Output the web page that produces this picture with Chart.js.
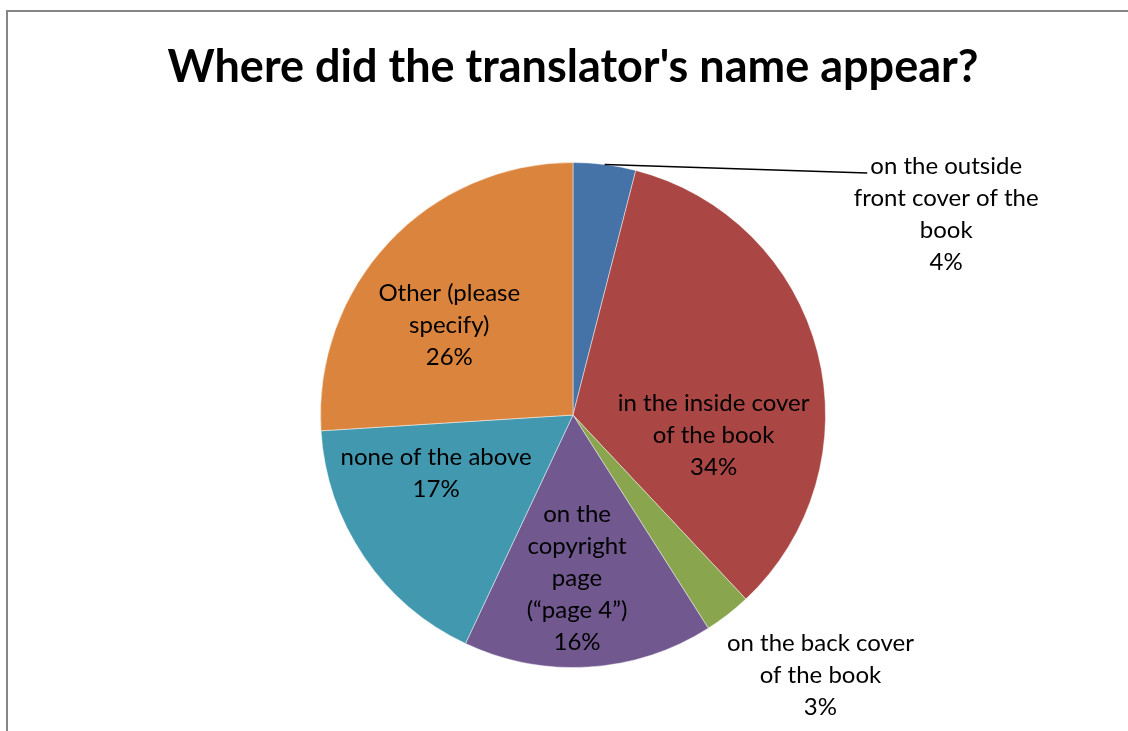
<!DOCTYPE html>
<html>
<head>
<meta charset="utf-8">
<script src="https://cdn.jsdelivr.net/npm/chart.js@4.4.1/dist/chart.umd.min.js"></script>
<style>
  html, body { margin: 0; padding: 0; background: #fff; }
  #wrap { position: relative; width: 1128px; height: 731px; }
</style>
</head>
<body>
<div id="wrap"><canvas id="pie"></canvas></div>
<script>
const chartTitle = "Where did the translator's name appear?";
const categories = [
  ["on the outside", "front cover of the", "book"],
  ["in the inside cover", "of the book"],
  ["on the back cover", "of the book"],
  ["on the", "copyright", "page", "(\u201cpage 4\u201d)"],
  ["none of the above"],
  ["Other (please", "specify)"]
];
const shares = [4, 34, 3, 16, 17, 26];
const sliceColors = ["#4572A7", "#AA4643", "#89A54E", "#71588F", "#4198AF", "#DB843D"];

// label block centres, in radii from the pie centre
const labelSpots = [
  { fx: 1.478, fy: -0.796, leader: true },
  { fx: 0.557, fy: 0.079 },
  { fx: 0.980, fy: 1.032 },
  { fx: 0.016, fy: 0.648 },
  { fx: -0.542, fy: 0.231 },
  { fx: -0.490, fy: -0.356 }
];

const labelFont = "24px Lato";
const lineGap = 32;

const total = shares.reduce((a, b) => a + b, 0);

const frameAndTitle = {
  id: "frameAndTitle",
  beforeDraw(chart) {
    const ctx = chart.ctx;
    ctx.save();
    ctx.fillStyle = "#fff";
    ctx.fillRect(0, 0, chart.width, chart.height);
    ctx.strokeStyle = "#868686";
    ctx.lineWidth = 2;
    ctx.strokeRect(7, 11, chart.width + 20, chart.height + 20);
    ctx.restore();
  },
  afterDraw(chart) {
    const ctx = chart.ctx;
    const arc = chart.getDatasetMeta(0).data[0];
    ctx.save();
    ctx.fillStyle = "#000";
    ctx.font = "bold 45px Lato";
    ctx.textAlign = "center";
    ctx.textBaseline = "alphabetic";
    ctx.fillText(chartTitle, arc.x, 82);
    ctx.restore();
  }
};

const sliceLabels = {
  id: "sliceLabels",
  afterDatasetsDraw(chart) {
    const ctx = chart.ctx;
    const arcs = chart.getDatasetMeta(0).data;
    ctx.save();
    ctx.font = labelFont;
    ctx.fillStyle = "#000";
    ctx.textAlign = "center";
    ctx.textBaseline = "middle";
    arcs.forEach((arc, i) => {
      const spot = labelSpots[i];
      const r = arc.outerRadius;
      const lx = arc.x + spot.fx * r;
      const ly = arc.y + spot.fy * r;
      const pct = Math.round(shares[i] / total * 100) + "%";
      const lines = categories[i].concat([pct]);
      const top = ly - (lines.length - 1) * lineGap / 2;
      lines.forEach((t, k) => ctx.fillText(t, lx, top + k * lineGap));
      if (spot.leader) {
        const mid = (arc.startAngle + arc.endAngle) / 2;
        const sx = arc.x + Math.cos(mid) * r;
        const sy = arc.y + Math.sin(mid) * r;
        const ex = lx - ctx.measureText(lines[0]).width / 2 - 3;
        ctx.beginPath();
        ctx.strokeStyle = "#000";
        ctx.lineWidth = 1.5;
        ctx.moveTo(sx, sy);
        ctx.lineTo(ex, top + 7);
        ctx.stroke();
      }
    });
    ctx.restore();
  }
};

new Chart(document.getElementById("pie"), {
  type: "pie",
  data: {
    labels: categories.map(c => c.join(" ")),
    datasets: [{
      data: shares,
      backgroundColor: sliceColors,
      borderColor: "rgba(255,255,255,0.45)",
      borderWidth: 1
    }]
  },
  options: {
    responsive: true,
    maintainAspectRatio: false,
    animation: false,
    layout: { padding: { top: 162, bottom: 63, left: 320, right: 302 } },
    plugins: {
      legend: { display: false },
      tooltip: { enabled: false },
      title: { display: false }
    }
  },
  plugins: [frameAndTitle, sliceLabels]
});
</script>
</body>
</html>
